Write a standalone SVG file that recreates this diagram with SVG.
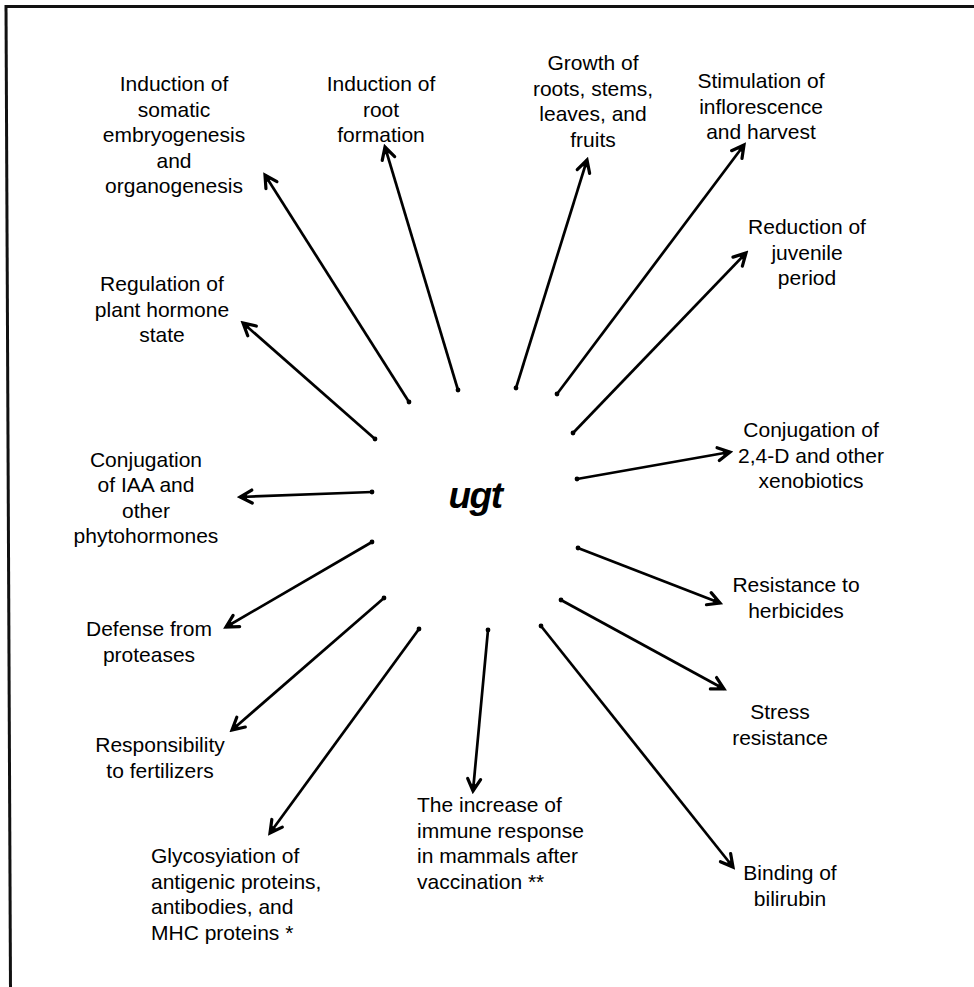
<svg xmlns="http://www.w3.org/2000/svg" width="974" height="987" viewBox="0 0 974 987">
<defs>
<marker id="ah" viewBox="-15 -9 18 18" refX="0" refY="0" markerWidth="18" markerHeight="18" markerUnits="userSpaceOnUse" orient="auto">
<path d="M-12,-6.5 L0,0 L-12,6.5" fill="none" stroke="#000" stroke-width="3.2" stroke-linejoin="miter" stroke-linecap="round"/>
<path d="M-7,-2.5 L0,0 L-7,2.5 Z" fill="#000"/>
</marker>
<marker id="dot" viewBox="-4 -4 8 8" refX="0" refY="0" markerWidth="8" markerHeight="8" markerUnits="userSpaceOnUse">
<circle cx="0" cy="0" r="2.4" fill="#000"/>
</marker>
</defs>
<style>
.t{font-family:"Liberation Sans",Arial,Helvetica,sans-serif;font-size:21px;fill:#000}
.c{text-anchor:middle}
.a{fill:none;stroke:#000;stroke-width:2.7;marker-end:url(#ah);marker-start:url(#dot)}
</style>
<rect x="0" y="0" width="974" height="987" fill="#fff"/>
<g id="frame">
<line x1="5" y1="6.5" x2="974" y2="6.5" stroke="#111" stroke-width="3.2"/>
<line x1="6" y1="5" x2="10.5" y2="987" stroke="#111" stroke-width="3"/>
</g>
<g id="center"><text x="475" y="508" font-family="Liberation Sans,Arial,sans-serif" font-size="37" font-weight="bold" font-style="italic" letter-spacing="-1.5" text-anchor="middle">ugt</text></g>
<g id="connectors">
<line class="a" x1="409" y1="402" x2="265" y2="175"/>
<line class="a" x1="458" y1="390" x2="385" y2="147"/>
<line class="a" x1="516" y1="388" x2="587" y2="160"/>
<line class="a" x1="557" y1="394" x2="744" y2="145"/>
<line class="a" x1="573" y1="433" x2="746" y2="253"/>
<line class="a" x1="375" y1="439" x2="243" y2="323"/>
<line class="a" x1="372" y1="492" x2="240" y2="497"/>
<line class="a" x1="372" y1="542" x2="226" y2="627"/>
<line class="a" x1="384" y1="598" x2="232" y2="730"/>
<line class="a" x1="419" y1="629" x2="270" y2="833"/>
<line class="a" x1="488" y1="630" x2="473" y2="791"/>
<line class="a" x1="541" y1="626" x2="733" y2="867"/>
<line class="a" x1="561" y1="600" x2="724" y2="689"/>
<line class="a" x1="578" y1="548" x2="720" y2="603"/>
<line class="a" x1="577" y1="479" x2="730" y2="452"/>
</g>
<g id="n-somatic"><text class="t c" x="174" y="91"><tspan x="174">Induction of</tspan><tspan x="174" dy="25.5">somatic</tspan><tspan x="174" dy="25.5">embryogenesis</tspan><tspan x="174" dy="25.5">and</tspan><tspan x="174" dy="25.5">organogenesis</tspan></text></g>
<g id="n-root"><text class="t c" x="381" y="91"><tspan x="381">Induction of</tspan><tspan x="381" dy="25.5">root</tspan><tspan x="381" dy="25.5">formation</tspan></text></g>
<g id="n-growth"><text class="t c" x="593" y="70"><tspan x="593">Growth of</tspan><tspan x="593" dy="25.5">roots, stems,</tspan><tspan x="593" dy="25.5">leaves, and</tspan><tspan x="593" dy="25.5">fruits</tspan></text></g>
<g id="n-stim"><text class="t c" x="761" y="88"><tspan x="761">Stimulation of</tspan><tspan x="761" dy="25.5">inflorescence</tspan><tspan x="761" dy="25.5">and harvest</tspan></text></g>
<g id="n-reduction"><text class="t c" x="807" y="234"><tspan x="807">Reduction of</tspan><tspan x="807" dy="25.5">juvenile</tspan><tspan x="807" dy="25.5">period</tspan></text></g>
<g id="n-regulation"><text class="t c" x="162" y="291"><tspan x="162">Regulation of</tspan><tspan x="162" dy="25.5">plant hormone</tspan><tspan x="162" dy="25.5">state</tspan></text></g>
<g id="n-iaa"><text class="t c" x="146" y="466.5"><tspan x="146">Conjugation</tspan><tspan x="146" dy="25.5">of IAA and</tspan><tspan x="146" dy="25.5">other</tspan><tspan x="146" dy="25.5">phytohormones</tspan></text></g>
<g id="n-defense"><text class="t c" x="149" y="636"><tspan x="149">Defense from</tspan><tspan x="149" dy="25.5">proteases</tspan></text></g>
<g id="n-responsibility"><text class="t c" x="160" y="752"><tspan x="160">Responsibility</tspan><tspan x="160" dy="25.5">to fertilizers</tspan></text></g>
<g id="n-glyco"><text class="t" x="151" y="863"><tspan x="151">Glycosyiation of</tspan><tspan x="151" dy="25.5">antigenic proteins,</tspan><tspan x="151" dy="25.5">antibodies, and</tspan><tspan x="151" dy="25.5">MHC proteins *</tspan></text></g>
<g id="n-immune"><text class="t" x="417" y="812"><tspan x="417">The increase of</tspan><tspan x="417" dy="25.5">immune response</tspan><tspan x="417" dy="25.5">in mammals after</tspan><tspan x="417" dy="25.5">vaccination **</tspan></text></g>
<g id="n-bilirubin"><text class="t c" x="790" y="880"><tspan x="790">Binding of</tspan><tspan x="790" dy="25.5">bilirubin</tspan></text></g>
<g id="n-stress"><text class="t c" x="780" y="719"><tspan x="780">Stress</tspan><tspan x="780" dy="25.5">resistance</tspan></text></g>
<g id="n-herbicides"><text class="t c" x="796" y="592"><tspan x="796">Resistance to</tspan><tspan x="796" dy="25.5">herbicides</tspan></text></g>
<g id="n-xeno"><text class="t c" x="811" y="437"><tspan x="811">Conjugation of</tspan><tspan x="811" dy="25.5">2,4-D and other</tspan><tspan x="811" dy="25.5">xenobiotics</tspan></text></g>
</svg>
